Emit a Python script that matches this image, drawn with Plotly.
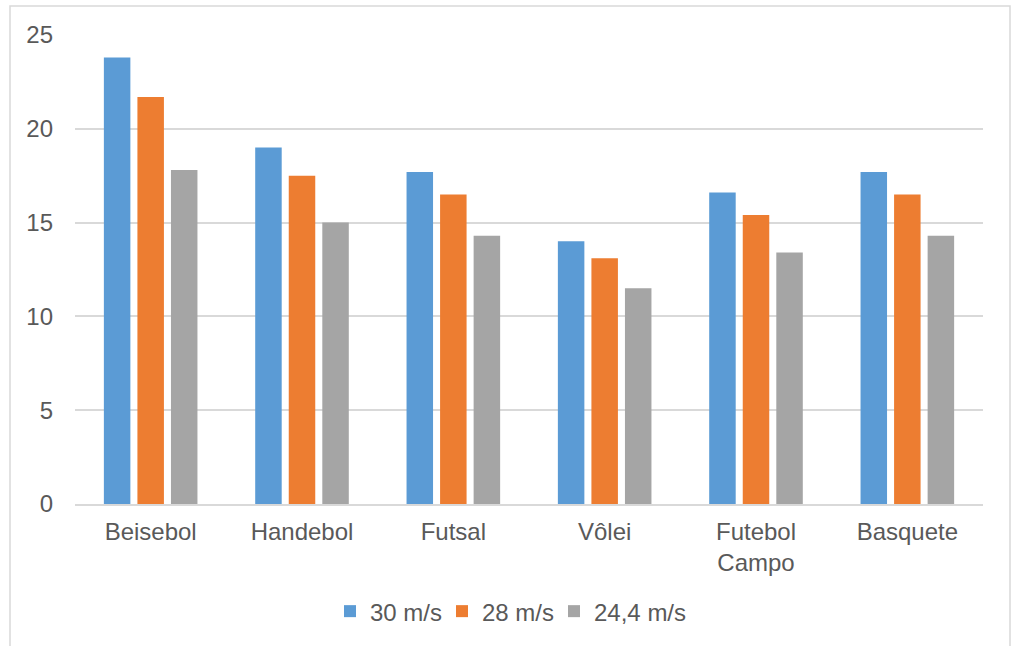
import plotly.graph_objects as go

# Sports categories and values per launch speed
categories = ["Beisebol", "Handebol", "Futsal", "Vôlei", "Futebol<br>Campo", "Basquete"]
series_names = ["30 m/s", "28 m/s", "24,4 m/s"]
values_30 = [23.8, 19.0, 17.7, 14.0, 16.6, 17.7]
values_28 = [21.7, 17.5, 16.5, 13.1, 15.4, 16.5]
values_244 = [17.8, 15.0, 14.3, 11.5, 13.4, 14.3]
y_ticks = [0, 5, 10, 15, 20, 25]

colors = ["#5B9BD5", "#ED7D31", "#A5A5A5"]
text_color = "#595959"
grid_color = "#D9D9D9"
font_family = "Liberation Sans, Arial, sans-serif"
fsize = 24

W, H = 1012, 646
ml, mr, mt, mb = 75, 29, 35, 140
pw = W - ml - mr
ph = H - mt - mb

# One legend box per series so the entries sit evenly spaced below the chart
legend_ids = ["legend", "legend2", "legend3"]
legend_left_px = [330, 442, 554]

fig = go.Figure()
for name, vals, col, lid in zip(series_names, [values_30, values_28, values_244], colors, legend_ids):
    fig.add_trace(go.Bar(
        x=categories, y=vals, name=name, legend=lid,
        marker=dict(color=col, line=dict(width=0)),
    ))

# Light frame around the whole chart area
fig.add_shape(
    type="rect", xref="paper", yref="paper",
    x0=(10 - ml) / pw, x1=(1010 - ml) / pw,
    y0=(H - mb - 700) / ph, y1=(H - mb - 6) / ph,
    line=dict(color=grid_color, width=1.5), fillcolor="rgba(0,0,0,0)",
    layer="below",
)

legend_style = dict(
    orientation="h", xref="paper", xanchor="left",
    yref="paper", y=(H - mb - 614) / ph, yanchor="middle",
    itemwidth=30,
    font=dict(size=fsize, color=text_color),
    itemclick=False, itemdoubleclick=False,
    bgcolor="rgba(0,0,0,0)",
)
legends = {
    lid: dict(legend_style, x=(px - ml) / pw)
    for lid, px in zip(legend_ids, legend_left_px)
}

fig.update_layout(
    width=W, height=H,
    margin=dict(l=ml, r=mr, t=mt, b=mb),
    paper_bgcolor="white", plot_bgcolor="white",
    barmode="group", bargap=0.335, bargroupgap=0.21,
    font=dict(family=font_family, size=fsize, color=text_color),
    showlegend=True,
    xaxis=dict(
        showgrid=False, showline=True, linecolor=grid_color, linewidth=1.5,
        ticks="", tickfont=dict(size=fsize, color=text_color),
        ticklabelstandoff=5,
    ),
    yaxis=dict(
        range=[0, 25], tickvals=y_ticks, ticktext=[str(v) for v in y_ticks],
        showgrid=True, gridcolor=grid_color, gridwidth=1.5,
        zeroline=False, showline=False, ticks="",
        tickfont=dict(size=fsize, color=text_color),
        ticklabelstandoff=21,
    ),
    **legends,
)

fig.write_html("out.html")
